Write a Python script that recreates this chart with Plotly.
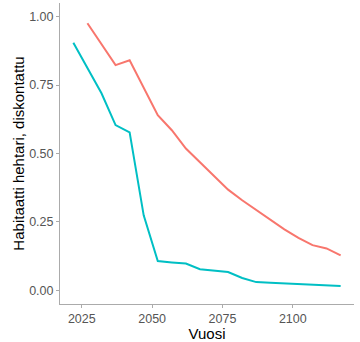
import plotly.graph_objects as go

# Habitat hectares (discounted) per scenario, every fifth year
years_a = [2027, 2032, 2037, 2042, 2047, 2052, 2057, 2062, 2067, 2072,
           2077, 2082, 2087, 2092, 2097, 2102, 2107, 2112, 2117]
values_a = [0.976, 0.900, 0.823, 0.841, 0.740, 0.640, 0.585, 0.518, 0.468, 0.419,
            0.368, 0.329, 0.293, 0.256, 0.223, 0.192, 0.165, 0.153, 0.128]

years_b = [2022, 2027, 2032, 2037, 2042, 2047, 2052, 2057, 2062, 2067,
           2072, 2077, 2082, 2087, 2092, 2097, 2102, 2107, 2112, 2117]
values_b = [0.905, 0.811, 0.720, 0.604, 0.577, 0.274, 0.107, 0.102, 0.098, 0.077,
            0.071, 0.067, 0.045, 0.030, 0.028, 0.026, 0.024, 0.022, 0.019, 0.016]

x_ticks = [2025, 2050, 2075, 2100]
y_ticks = [0.0, 0.25, 0.5, 0.75, 1.0]
y_tick_labels = ["0.00", "0.25", "0.50", "0.75", "1.00"]

fig = go.Figure()
fig.add_trace(go.Scatter(x=years_a, y=values_a, mode="lines",
                         line=dict(color="#F8766D", width=2), showlegend=False))
fig.add_trace(go.Scatter(x=years_b, y=values_b, mode="lines",
                         line=dict(color="#00BFC4", width=2), showlegend=False))

axis_common = dict(
    showgrid=False, zeroline=False, showline=True, linecolor="#ABABAB", linewidth=1,
    ticks="outside", ticklen=3, tickwidth=1, tickcolor="#ABABAB",
    tickfont=dict(family="Liberation Sans, Arial, sans-serif", size=12.5, color="#555555"),
)

fig.update_layout(
    width=360, height=342,
    margin=dict(l=60, r=6, t=3, b=38),
    paper_bgcolor="white", plot_bgcolor="white",
    xaxis=dict(range=[2017.25, 2121.75], tickvals=x_ticks,
               title=dict(text="Vuosi", standoff=0,
                          font=dict(family="Liberation Sans, Arial, sans-serif", size=15, color="black")),
               **axis_common),
    yaxis=dict(range=[-0.05, 1.05], tickvals=y_ticks, ticktext=y_tick_labels,
               title=dict(text="Habitaatti hehtari, diskontattu", standoff=0,
                          font=dict(family="Liberation Sans, Arial, sans-serif", size=15, color="black")),
               **axis_common),
)

fig.write_html("out.html")
